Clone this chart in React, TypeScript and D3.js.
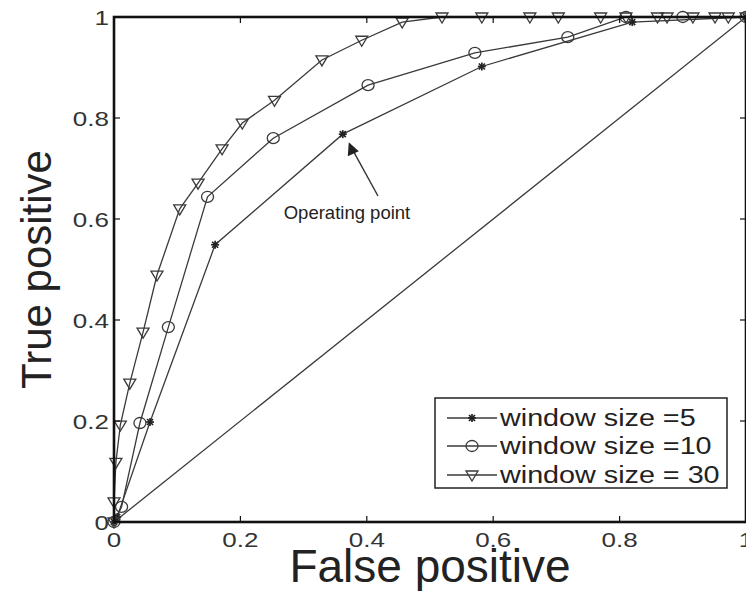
import React from "react";
import * as d3 from "d3";

// ROC curves: [false positive rate, true positive rate]
const win5: [number, number][] = [
  [0, 0], [0.005, 0.01], [0.057, 0.198], [0.16, 0.549], [0.362, 0.768],
  [0.582, 0.902], [0.82, 0.99], [1, 1],
];
const win10: [number, number][] = [
  [0, 0], [0.012, 0.03], [0.041, 0.196], [0.086, 0.386], [0.148, 0.644],
  [0.252, 0.76], [0.402, 0.865], [0.571, 0.929], [0.718, 0.96], [0.81, 1],
  [0.9, 1], [1, 1],
];
const win30: [number, number][] = [
  [0, 0], [0, 0.04], [0.003, 0.118], [0.01, 0.192], [0.025, 0.275],
  [0.046, 0.376], [0.068, 0.489], [0.104, 0.62], [0.133, 0.671],
  [0.171, 0.739], [0.203, 0.79], [0.254, 0.835], [0.329, 0.915],
  [0.392, 0.954], [0.456, 0.99], [0.519, 1], [0.582, 1], [0.658, 1],
  [0.703, 1], [0.77, 1], [0.81, 1], [0.86, 1], [0.875, 1], [0.916, 1],
  [0.951, 1], [0.972, 1], [1, 1],
];
const chance: [number, number][] = [[0, 0], [1, 1]];
const operatingPoint: [number, number] = [0.362, 0.768];

const xTicks = [0, 0.2, 0.4, 0.6, 0.8, 1];
const yTicks = [0, 0.2, 0.4, 0.6, 0.8, 1];
const seriesNames = ["window size =5", "window size =10", "window size = 30"];

const W = 746;
const H = 591;
const L = 114, R = 746, T = 17, B = 522;

const x = d3.scaleLinear().domain([0, 1]).range([L, R]);
const y = d3.scaleLinear().domain([0, 1]).range([B, T]);
const line = d3.line<[number, number]>().x((d) => x(d[0])).y((d) => y(d[1]));

const ink = "#3a3a3a";
const font = "'Liberation Sans', Arial, sans-serif";

// text widened horizontally around its anchor point
function WideText({ x: tx, y: ty, sx, size, anchor = "start", fill = "#333", children }:
  { x: number; y: number; sx: number; size: number; anchor?: string; fill?: string; children: React.ReactNode }) {
  return (
    <text transform={`translate(${tx},${ty}) scale(${sx},1)`} textAnchor={anchor}
      fontFamily={font} fontSize={size} fill={fill}>{children}</text>
  );
}

function Star({ cx, cy }: { cx: number; cy: number }) {
  const r = 4;
  return (
    <g stroke="#222" strokeWidth={1.7}>
      <line x1={cx - r} y1={cy} x2={cx + r} y2={cy} />
      <line x1={cx} y1={cy - r} x2={cx} y2={cy + r} />
      <line x1={cx - 3} y1={cy - 3} x2={cx + 3} y2={cy + 3} />
      <line x1={cx - 3} y1={cy + 3} x2={cx + 3} y2={cy - 3} />
    </g>
  );
}

function Circ({ cx, cy }: { cx: number; cy: number }) {
  return <ellipse cx={cx} cy={cy} rx={6} ry={5.5} fill="none" stroke={ink} strokeWidth={1.3} />;
}

function Tri({ cx, cy }: { cx: number; cy: number }) {
  const p = `${cx - 6},${cy - 4} ${cx + 6},${cy - 4} ${cx},${cy + 6}`;
  return <polygon points={p} fill="none" stroke={ink} strokeWidth={1.3} />;
}

export default function App() {
  const legendX = 435, legendY = 398, legendW = 292, legendH = 90;
  const rows = [418, 446, 475];
  const markers = [Star, Circ, Tri];

  return (
    <svg
      width={W}
      height={H}
      style={{ position: "absolute", left: 0, top: 0, background: "#fff" }}
    >
      <rect x={0} y={0} width={W} height={H} fill="#fff" />

      {/* chance diagonal */}
      <path d={line(chance) ?? ""} fill="none" stroke={ink} strokeWidth={1.3} />

      {/* curves */}
      {[win5, win10, win30].map((s, i) => (
        <path key={i} d={line(s) ?? ""} fill="none" stroke={ink} strokeWidth={1.3} />
      ))}
      {win5.map((d, i) => <Star key={"s" + i} cx={x(d[0])} cy={y(d[1])} />)}
      {win10.map((d, i) => <Circ key={"c" + i} cx={x(d[0])} cy={y(d[1])} />)}
      {win30.map((d, i) => <Tri key={"t" + i} cx={x(d[0])} cy={y(d[1])} />)}

      {/* axes frame */}
      <rect x={L} y={T} width={R - L} height={B - T} fill="none" stroke="#111" strokeWidth={2.6} />

      {/* ticks, inward on all four sides */}
      {xTicks.map((t) => (
        <g key={"xt" + t} stroke="#111" strokeWidth={1.2}>
          <line x1={x(t)} y1={B} x2={x(t)} y2={B - 6} />
          <line x1={x(t)} y1={T} x2={x(t)} y2={T + 6} />
        </g>
      ))}
      {yTicks.map((t) => (
        <g key={"yt" + t} stroke="#111" strokeWidth={1.2}>
          <line x1={L} y1={y(t)} x2={L + 6} y2={y(t)} />
          <line x1={R} y1={y(t)} x2={R - 6} y2={y(t)} />
        </g>
      ))}

      {/* tick labels */}
      {xTicks.map((t) => (
        <WideText key={"xl" + t} x={x(t)} y={B + 25} sx={1.3} size={20} anchor="middle">
          {String(t)}
        </WideText>
      ))}
      {yTicks.map((t) => (
        <WideText key={"yl" + t} x={L - 5} y={y(t) + 7.5} sx={1.3} size={20} anchor="end">
          {String(t)}
        </WideText>
      ))}

      {/* axis titles */}
      <text x={x(0.5)} y={582} textAnchor="middle" fontFamily={font} fontSize={46} fill="#222">
        False positive
      </text>
      <text transform={`translate(51, ${y(0.5)}) rotate(-90)`} textAnchor="middle"
        fontFamily={font} fontSize={42} fill="#222">
        True positive
      </text>

      {/* annotation */}
      <text x={347} y={219} textAnchor="middle" fontFamily={font} fontSize={18.5} fill="#222">
        Operating point
      </text>
      <line x1={378} y1={196} x2={x(operatingPoint[0]) + 10} y2={y(operatingPoint[1]) + 16}
        stroke="#333" strokeWidth={1.4} />
      <polygon
        points={`${x(operatingPoint[0]) + 6},${y(operatingPoint[1]) + 8} ${x(operatingPoint[0]) + 5},${y(operatingPoint[1]) + 22} ${x(operatingPoint[0]) + 16},${y(operatingPoint[1]) + 17}`}
        fill="#222"
      />

      {/* legend */}
      <rect x={legendX} y={legendY} width={legendW} height={legendH} fill="#fff"
        stroke="#222" strokeWidth={1.5} />
      {seriesNames.map((name, i) => {
        const M = markers[i];
        return (
          <g key={name}>
            <line x1={447} y1={rows[i]} x2={497} y2={rows[i]} stroke={ink} strokeWidth={1.3} />
            <M cx={472} cy={rows[i]} />
            <WideText x={500} y={rows[i] + 8} sx={1.25} size={23} fill="#222">{name}</WideText>
          </g>
        );
      })}
    </svg>
  );
}
